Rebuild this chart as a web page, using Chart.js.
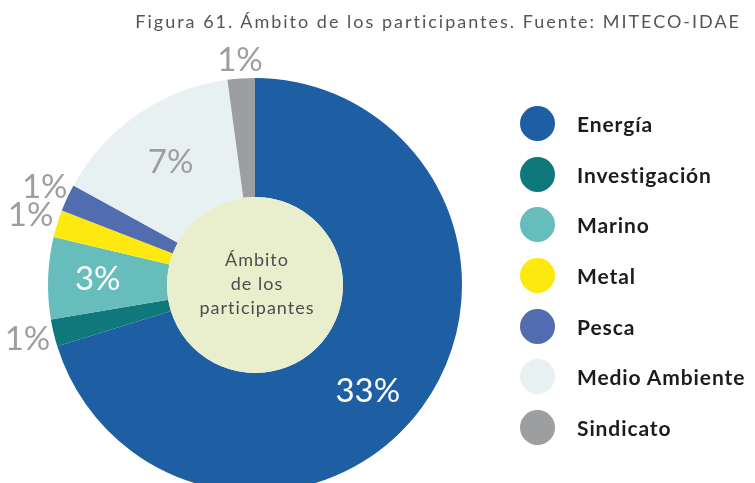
<!DOCTYPE html>
<html>
<head>
<meta charset="utf-8">
<script src="https://cdn.jsdelivr.net/npm/chart.js@4/dist/chart.umd.min.js"></script>
<style>
  html, body { margin: 0; padding: 0; background: #fff; overflow: hidden; width: 755px; height: 483px; }
  #wrap { position: relative; width: 755px; height: 483px; }
  #chart { position: absolute; left: 0; top: 0; }
  #titulo {
    position: absolute; right: 14px; top: 10px;
    font: 18px Lato, "Open Sans", sans-serif; letter-spacing: 2px; color: #555;
    white-space: nowrap;
  }
  #leyenda { position: absolute; left: 520px; top: 98px; }
  .item { display: flex; align-items: center; height: 50.7px; }
  .dot { width: 35px; height: 35px; border-radius: 50%; margin-right: 22px; flex: none; }
  .txt { font: bold 21px Lato, "Open Sans", sans-serif; letter-spacing: 0.9px; color: #1c1c1c; white-space: nowrap; }
</style>
</head>
<body>
<div id="wrap">
  <canvas id="chart" width="755" height="500"></canvas>
  <div id="titulo">Figura 61. Ámbito de los participantes. Fuente: MITECO-IDAE</div>
  <div id="leyenda"></div>
</div>
<script>
// Ámbito de los participantes (%)
const categorias = ['Energía', 'Investigación', 'Marino', 'Metal', 'Pesca', 'Medio Ambiente', 'Sindicato'];
const valores = [33, 1, 3, 1, 1, 7, 1];
const colores = ['#1e5fa4', '#0e787b', '#67bdbb', '#fde90f', '#516caf', '#e7f1f1', '#9d9ea0'];

// color, distancia (fracción del radio exterior) y giro en grados de cada etiqueta
const colorEtiqueta = ['#ffffff', '#9d9ea0', '#ffffff', '#9d9ea0', '#9d9ea0', '#9d9ea0', '#9d9ea0'];
const radioEtiqueta = [0.75, 1.13, 0.76, 1.135, 1.12, 0.72, 1.09];
const giroEtiqueta = [7, 0, 0, 0, 0, 0, 0];

// leyenda en HTML
const leyenda = document.getElementById('leyenda');
categorias.forEach((c, i) => {
  const item = document.createElement('div');
  item.className = 'item';
  item.innerHTML = '<span class="dot" style="background:' + colores[i] + '"></span><span class="txt">' + c + '</span>';
  leyenda.appendChild(item);
});

// círculo central y porcentajes
const etiquetas = {
  id: 'etiquetas',
  afterDatasetsDraw(chart) {
    const ctx = chart.ctx;
    const arcs = chart.getDatasetMeta(0).data;
    const a0 = arcs[0];

    ctx.save();
    ctx.beginPath();
    ctx.arc(a0.x, a0.y, a0.innerRadius, 0, Math.PI * 2);
    ctx.fillStyle = '#e9efcc';
    ctx.fill();

    ctx.fillStyle = '#4d4d4d';
    ctx.font = '18px Lato, "Open Sans", sans-serif';
    ctx.letterSpacing = '1px';
    ctx.textAlign = 'center';
    ctx.textBaseline = 'middle';
    ['Ámbito', 'de los', 'participantes'].forEach((t, i) => {
      ctx.fillText(t, a0.x + 2, a0.y - 25 + i * 24);
    });

    ctx.letterSpacing = '0px';
    ctx.font = '33px Lato, "Open Sans", sans-serif';
    arcs.forEach((arc, i) => {
      const ang = (arc.startAngle + arc.endAngle) / 2 + giroEtiqueta[i] * Math.PI / 180;
      const r = arc.outerRadius * radioEtiqueta[i];
      ctx.fillStyle = colorEtiqueta[i];
      ctx.fillText(valores[i] + '%', arc.x + Math.cos(ang) * r, arc.y + Math.sin(ang) * r);
    });
    ctx.restore();
  }
};

new Chart(document.getElementById('chart'), {
  type: 'doughnut',
  data: {
    labels: categorias,
    datasets: [{
      data: valores,
      backgroundColor: colores,
      borderWidth: 0
    }]
  },
  options: {
    responsive: false,
    animation: false,
    devicePixelRatio: 1,
    cutout: '42.5%',
    layout: { padding: { left: 48, top: 78, right: 293, bottom: 8 } },
    plugins: {
      legend: { display: false },
      tooltip: { enabled: false }
    }
  },
  plugins: [etiquetas]
});
</script>
</body>
</html>
